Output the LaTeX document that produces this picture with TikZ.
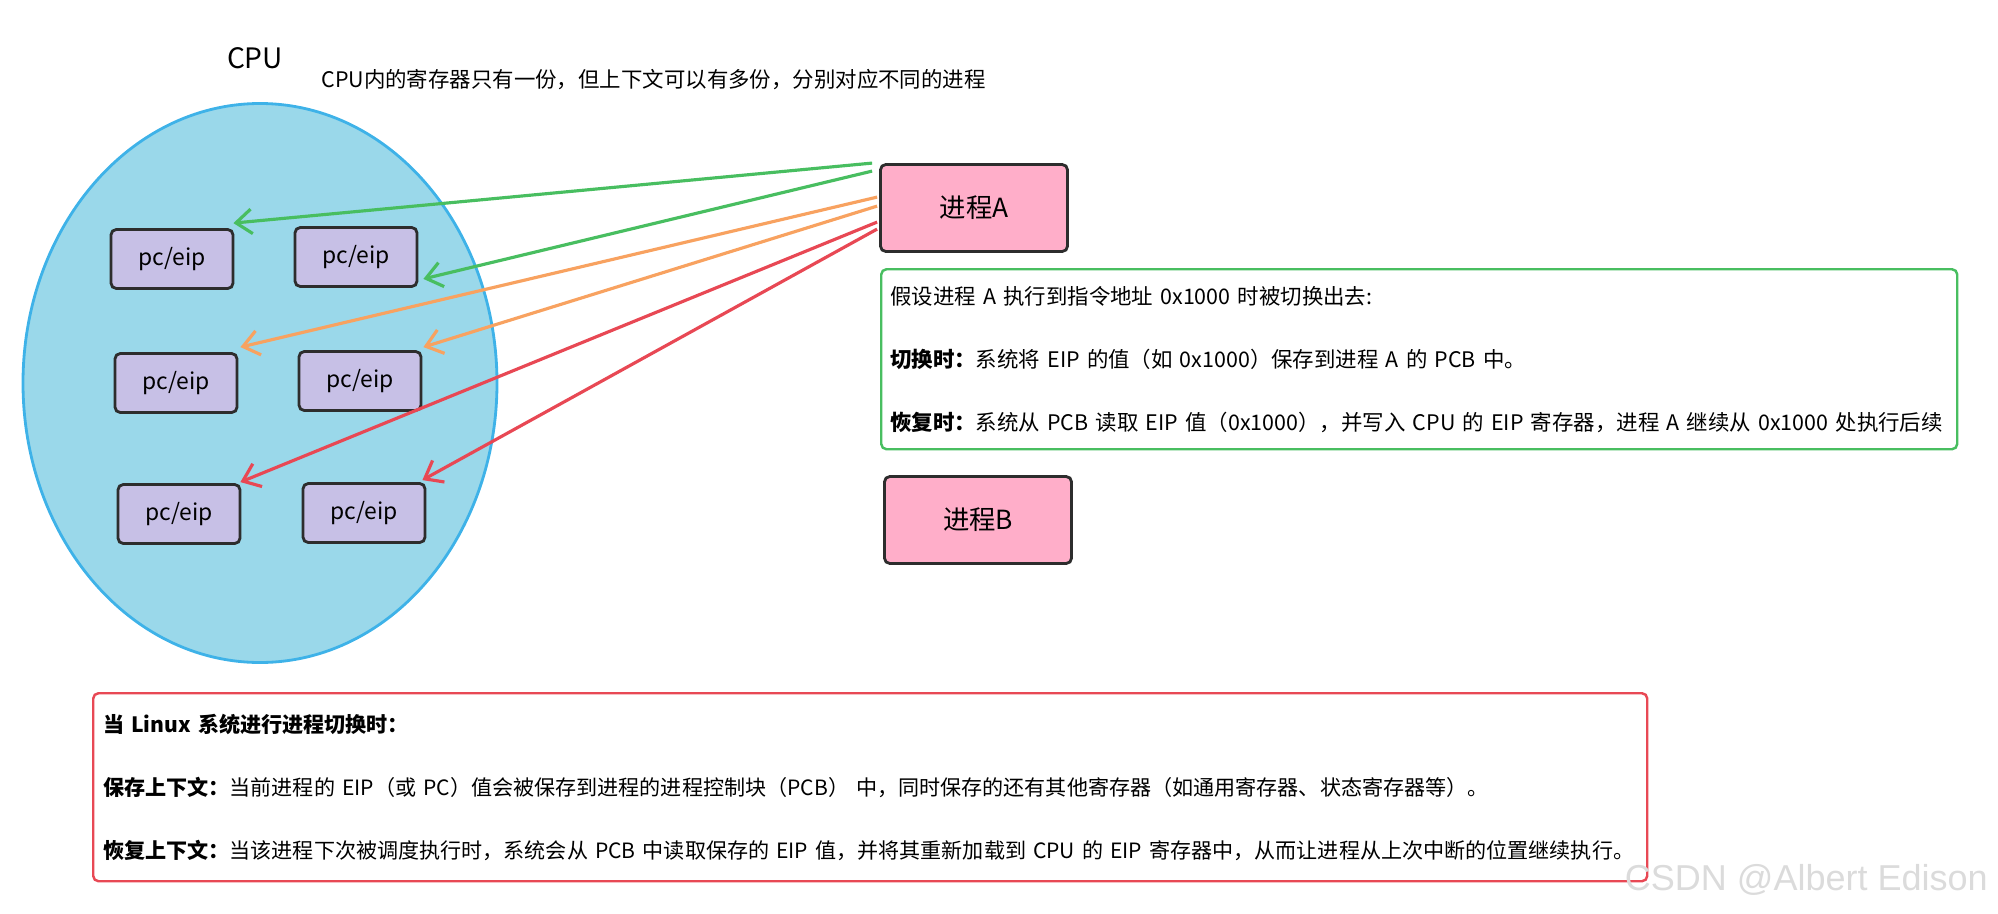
\documentclass[tikz,border=0pt]{standalone}
\usepackage{fontspec}
\setmainfont{Noto Sans CJK SC}
\newfontfamily\markfont{Liberation Sans}
\usetikzlibrary{arrows.meta,positioning,shapes.geometric,calc}
\definecolor{cpublue}{RGB}{154,216,234}
\definecolor{cpuedge}{RGB}{62,178,232}
\definecolor{regfill}{RGB}{199,192,230}
\definecolor{procpink}{RGB}{255,174,201}
\definecolor{inkgray}{RGB}{45,45,45}
\definecolor{arrgreen}{RGB}{72,190,96}
\definecolor{arrorange}{RGB}{248,162,96}
\definecolor{arrred}{RGB}{232,72,84}
\newlength\unitpx
\setlength\unitpx{0.02cm}

\begin{document}
\begin{tikzpicture}[x=\unitpx,y=-\unitpx,
  cpu/.style={ellipse,draw=cpuedge,line width=1.6pt,fill=cpublue,minimum width=474\unitpx,minimum height=559\unitpx},
  reg/.style={draw=inkgray,line width=1.6pt,fill=regfill,rounded corners=3pt,minimum width=122\unitpx,minimum height=59\unitpx,font=\fontsize{13}{15}\selectfont},
  proc/.style={draw=inkgray,line width=1.6pt,fill=procpink,rounded corners=3pt,minimum width=187\unitpx,minimum height=87\unitpx,font=\fontsize{15}{17}\selectfont},
  note/.style={draw=#1,line width=1.4pt,rounded corners=3pt,align=left,inner sep=9\unitpx,font=\fontsize{12.2}{35.8}\selectfont},
  link/.style={-{Straight Barb[length=9pt,width=14pt]},#1,line width=1.8pt}
]
\useasboundingbox (0,0) rectangle (1998,913);
\node[cpu] (cpu) at (260,383) {};
\node[font=\fontsize{16}{18}\selectfont] (cpulbl) at (255,58) {CPU};
\node[anchor=west,inner sep=0pt,font=\fontsize{12.2}{14}\selectfont] (cpunote) at (321,80) {CPU内的寄存器只有一份，但上下文可以有多份，分别对应不同的进程};
\node[reg] (pe1) at (172,259) {pc/eip};
\node[reg] (pe2) at (356,257) {pc/eip};
\node[reg] (pe3) at (176,383) {pc/eip};
\node[reg] (pe4) at (360,381) {pc/eip};
\node[reg] (pe5) at (179,514) {pc/eip};
\node[reg] (pe6) at (364,513) {pc/eip};
\node[proc] (pA) at (974,208) {进程A};
\node[note=arrgreen,anchor=north west,text width=1058\unitpx,minimum height=180\unitpx] (ctxA) at (880,268) {假设进程 A 执行到指令地址 0x1000 时被切换出去:\\
\textbf{切换时：}系统将 EIP 的值（如 0x1000）保存到进程 A 的 PCB 中。\\
\textbf{恢复时：}系统从 PCB 读取 EIP 值（0x1000），并写入 CPU 的 EIP 寄存器，进程 A 继续从 0x1000 处执行后续};
\node[proc] (pB) at (978,520) {进程B};
\node[note=arrred,anchor=north west,inner sep=10\unitpx,text width=1534\unitpx,minimum height=188\unitpx,font=\fontsize{12}{35.8}\selectfont] (ctxsw) at (92,692) {\textbf{当 Linux 系统进行进程切换时：}\\
\textbf{保存上下文：}当前进程的 EIP（或 PC）值会被保存到进程的进程控制块（PCB） 中，同时保存的还有其他寄存器（如通用寄存器、状态寄存器等）。\\
\textbf{恢复上下文：}当该进程下次被调度执行时，系统会从 PCB 中读取保存的 EIP 值，并将其重新加载到 CPU 的 EIP 寄存器中，从而让进程从上次中断的位置继续执行。};
\draw[link=arrgreen] ($(pA.north west)+(-7,0)$) -- ($(pe1.north east)+(-1,-5)$);
\draw[link=arrgreen] ($(pA.north west)+(-7,8)$) -- ($(pe2.south east)+(5,-9)$);
\draw[link=arrorange] ($(pA.north west)+(-2,34)$) -- ($(pe3.north east)+(2,-5)$);
\draw[link=arrorange] ($(pA.north west)+(-2,43)$) -- ($(pe4.north east)+(1,-3)$);
\draw[link=arrred] ($(pA.north west)+(-2,59)$) -- ($(pe5.north east)+(-1,-1)$);
\draw[link=arrred] ($(pA.north west)+(-2,66)$) -- ($(pe6.north east)+(-4,-2)$);
\node[anchor=east,text=black!14,font=\markfont\fontsize{20.5}{22}\selectfont] (mark) at (1994,880) {CSDN @Albert Edison};
\end{tikzpicture}
\end{document}
